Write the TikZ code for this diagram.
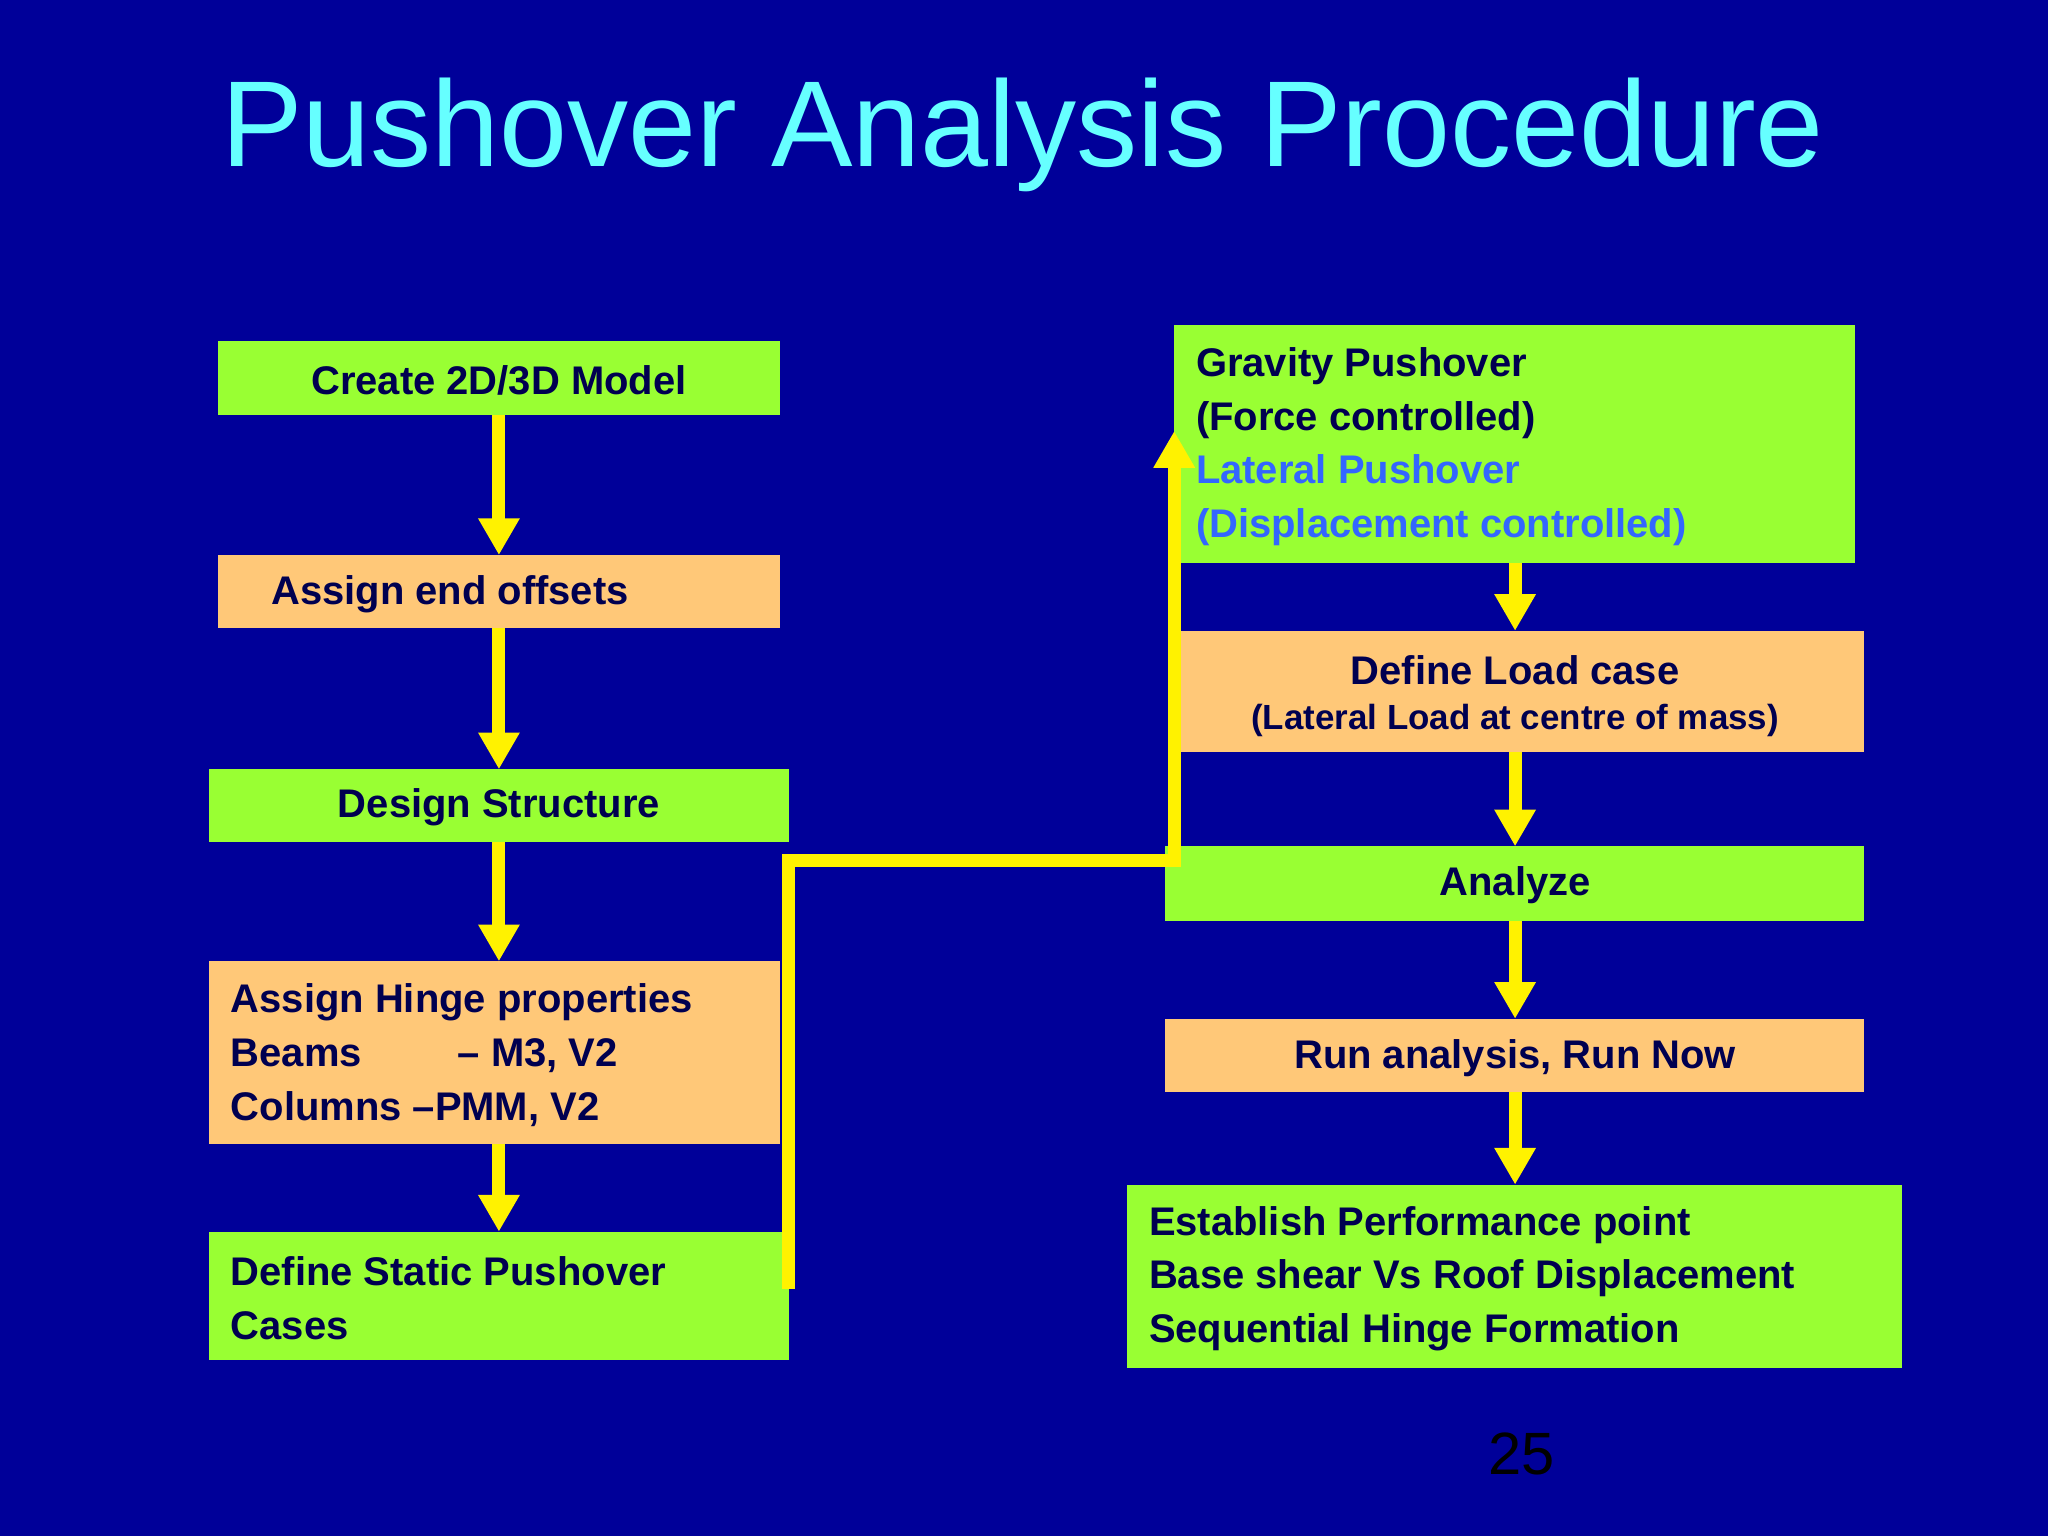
\documentclass[tikz,border=0pt]{standalone}
\usepackage{fontspec}
\setmainfont{Liberation Sans}
\usetikzlibrary{arrows.meta}
\definecolor{bg}{RGB}{0,0,153}
\definecolor{gr}{RGB}{153,255,51}
\definecolor{orng}{RGB}{255,200,120}
\definecolor{ttl}{RGB}{102,255,255}
\definecolor{blu}{RGB}{51,102,255}
\definecolor{txt}{RGB}{0,0,80}
\begin{document}
\begin{tikzpicture}[x=0.01cm,y=-0.01cm,
 box/.style={draw=none,inner sep=0pt,anchor=north west},
 lbl/.style={font=\fontsize{8.7}{11.7}\selectfont\bfseries,text=txt,align=left,inner sep=0pt},
 arr/.style={yellow,line width=2.85pt,-{Triangle[width=8.5pt,length=8pt]}}]
\fill[bg] (0,0) rectangle (1568,1176);
\useasboundingbox (0,0) rectangle (1568,1176);
\node[font=\fontsize{26.6}{30}\selectfont,text=ttl] (title) at (783,103) {Pushover Analysis Procedure};
% left boxes
\fill[gr] (167,261) rectangle (597,318); \coordinate (l1t) at (382,261); \coordinate (l1b) at (382,318);
\node[lbl] (l1) at (382,291) {Create 2D/3D Model};
\fill[orng] (167,425) rectangle (597,481); \coordinate (l2t) at (382,425); \coordinate (l2b) at (382,481);
\node[lbl,anchor=west] (l2) at (207,455) {Assign end offsets};
\fill[gr] (160,589) rectangle (604,645); \coordinate (l3t) at (382,589); \coordinate (l3b) at (382,645);
\node[lbl] (l3) at (382,618) {Design Structure};
\fill[orng] (160,736) rectangle (597,876); \coordinate (l4t) at (382,736); \coordinate (l4b) at (382,876);
\node[lbl,anchor=west] (l4) at (176,808) {Assign Hinge properties\\Beams\hspace{2.4em}– M3, V2\\Columns –PMM, V2};
\fill[gr] (160,943) rectangle (604,1041); \coordinate (l5t) at (382,943);
\node[lbl,anchor=west] (l5) at (176,994) {Define Static Pushover\\Cases};
% right boxes
\fill[gr] (899,249) rectangle (1420,431); \coordinate (r1b) at (1160,431);
\node[lbl,anchor=west] (r1) at (915,342) {Gravity Pushover\\(Force controlled)\\\textcolor{blu}{Lateral Pushover}\\\textcolor{blu}{(Displacement controlled)}};
\fill[orng] (903,483) rectangle (1427,576); \coordinate (r2t) at (1160,483); \coordinate (r2b) at (1160,576);
\node[lbl,align=center] (r2) at (1160,513) {Define Load case};
\node[font=\fontsize{7.6}{9}\selectfont\bfseries,text=txt,inner sep=0pt] (r2s) at (1160,552) {(Lateral Load at centre of mass)};
\fill[gr] (892,648) rectangle (1427,705); \coordinate (r3t) at (1160,648); \coordinate (r3b) at (1160,705);
\node[lbl] (r3) at (1160,678) {Analyze};
\fill[orng] (892,780) rectangle (1427,836); \coordinate (r4t) at (1160,780); \coordinate (r4b) at (1160,836);
\node[lbl] (r4) at (1160,810) {Run analysis, Run Now};
\fill[gr] (863,907) rectangle (1456,1047); \coordinate (r5t) at (1160,907);
\node[lbl,anchor=west] (r5) at (879,979) {Establish Performance point\\Base shear Vs Roof Displacement\\Sequential Hinge Formation};
\node[font=\fontsize{13}{13}\selectfont\rmfamily,text=black] (pg) at (1165,1113) {25};
% arrows
\draw[arr] (l1b) -- (l2t);
\draw[arr] (l2b) -- (l3t);
\draw[arr] (l3b) -- (l4t);
\draw[arr] (l4b) -- (l5t);
\draw[arr] (r1b) -- (r2t);
\draw[arr] (r2b) -- (r3t);
\draw[arr] (r3b) -- (r4t);
\draw[arr] (r4b) -- (r5t);
\coordinate (c0) at (604,987); \coordinate (c1) at (604,659); \coordinate (c2) at (899,659); \coordinate (c3) at (899,330);
\draw[arr] (c0) -- (c1) -- (c2) -- (c3);
\end{tikzpicture}
\end{document}
